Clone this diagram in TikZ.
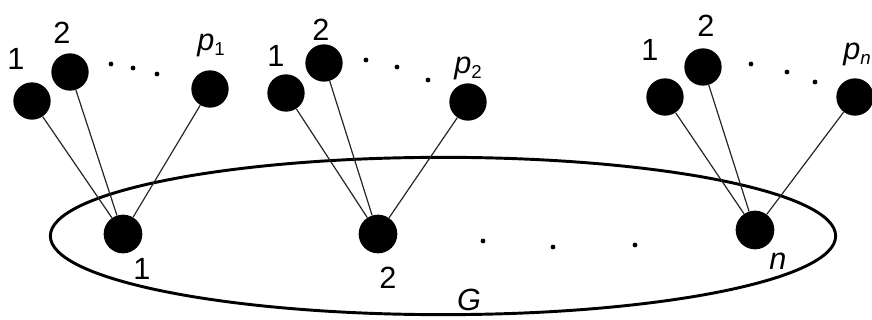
\documentclass[tikz,border=0pt]{standalone}
\usepackage{fontspec}
\setmainfont{Liberation Sans}

\begin{document}
\begin{tikzpicture}[x=0.75pt,y=-0.75pt]
	\tikzset{
		vertex/.style={circle, fill=black, inner sep=0, minimum size=28pt},
		base/.style={circle, fill=black, inner sep=0, minimum size=29pt},
		lbl/.style={font=\fontsize{23}{27}\selectfont, inner sep=0},
		pdot/.style={circle, fill=black, inner sep=0, minimum size=3.6pt},
		edge/.style={draw=black!85, line width=0.9pt},
	}
	\useasboundingbox (0,0) rectangle (872,320);
	% the graph G
	\draw[line width=2.2pt] (443,236) ellipse [x radius=294.5pt, y radius=59pt];
	\node[base] (b1) at (123,234) {};
	\node[base] (b2) at (378,234) {};
	\node[base] (bn) at (755,230) {};
	\node[lbl] (lb1) at (142,269) {1};
	\node[lbl] (lb2) at (388,278) {2};
	\node[lbl] (lbn) at (778,261) {\textit{n}};
	\node[lbl] (lG) at (469,300) {\textit{G}};
	\foreach \x/\y [count=\i] in {483/241, 553/247, 635/245}
		\node[pdot] (g\i) at (\x,\y) {};
	% pendant vertices
	\node[vertex] (a1) at (32,101) {};
	\node[vertex] (a2) at (70,72) {};
	\node[vertex] (ap) at (210,89) {};
	\node[vertex] (c1) at (286,93) {};
	\node[vertex] (c2) at (324,63) {};
	\node[vertex] (cp) at (468,102) {};
	\node[vertex] (d1) at (665,97) {};
	\node[vertex] (d2) at (703,67) {};
	\node[vertex] (dp) at (855,97) {};
	\foreach \u in {a1,a2,ap}
		\draw[edge] (\u) -- (b1);
	\foreach \u in {c1,c2,cp}
		\draw[edge] (\u) -- (b2);
	\foreach \u in {d1,d2,dp}
		\draw[edge] (\u) -- (bn);
	% labels
	\node[lbl] (la1) at (16,59) {1};
	\node[lbl] (la2) at (62,33) {2};
	\node[lbl, anchor=base west] (lap) at (197,51) {\textit{p}\raisebox{-3.5pt}{\fontsize{14}{14}\selectfont 1}};
	\node[lbl] (lc1) at (276,56) {1};
	\node[lbl] (lc2) at (321,30) {2};
	\node[lbl, anchor=base west] (lcp) at (454,74) {\textit{p}\raisebox{-3.5pt}{\fontsize{14}{14}\selectfont 2}};
	\node[lbl] (ld1) at (650,50) {1};
	\node[lbl] (ld2) at (706,26) {2};
	\node[lbl, anchor=base west] (ldp) at (843,60) {\textit{p}\raisebox{-3.5pt}{\fontsize{14}{14}\selectfont\itshape n}};
	\foreach \x/\y [count=\i] in {111/64, 133/68, 157/74}
		\node[pdot] (ta\i) at (\x,\y) {};
	\foreach \x/\y [count=\i] in {366/60, 397/67, 428/80}
		\node[pdot] (tc\i) at (\x,\y) {};
	\foreach \x/\y [count=\i] in {751/64, 787/72, 815/82}
		\node[pdot] (td\i) at (\x,\y) {};
\end{tikzpicture}
\end{document}
